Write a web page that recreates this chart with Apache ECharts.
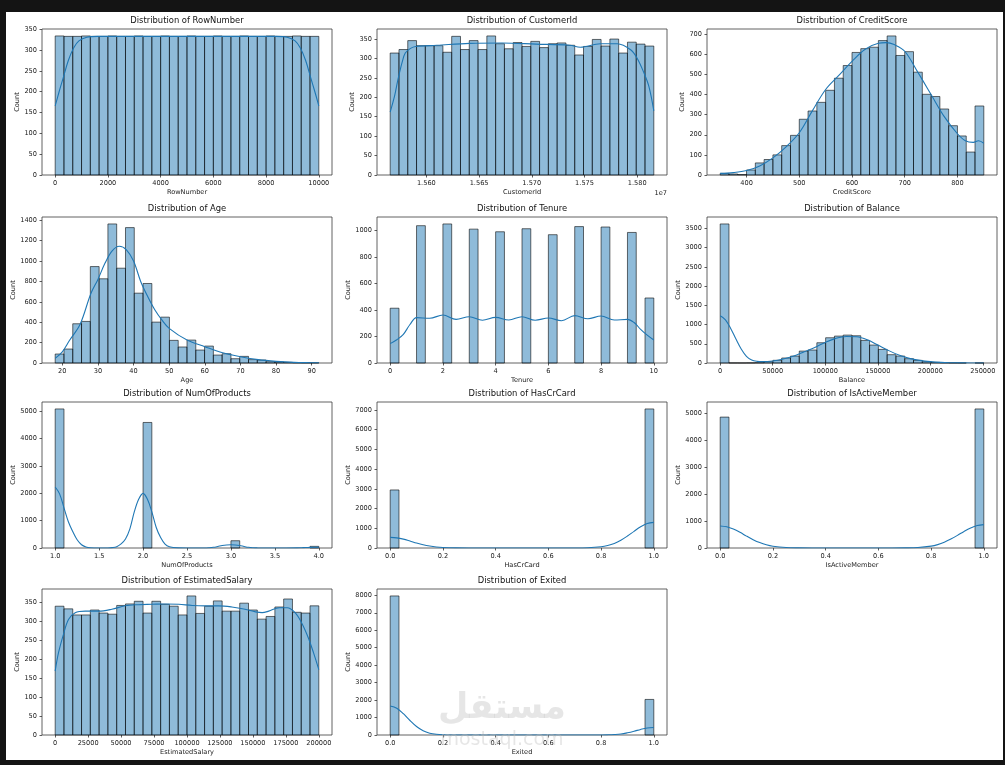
<!DOCTYPE html>
<html><head><meta charset="utf-8">
<script src="https://cdn.jsdelivr.net/npm/echarts@6/dist/echarts.min.js"></script>
<style>
html,body{margin:0;padding:0;background:#141414;overflow:hidden;}
#paper{position:absolute;left:6px;top:12px;width:997px;height:748px;background:#ffffff;}
#chart{position:absolute;left:0;top:0;width:1005px;height:765px;}
</style></head><body><div id="paper"></div><div id="chart"></div>
<script>
// ---------------- DATA ----------------
const rowNumberRange = [1, 10000];
const rowNumberCounts = [334,333,333,334,333,333,334,333,333,334,333,333,334,333,333,334,333,333,334,333,333,334,333,333,334,333,333,334,333,333];
const rowNumberKde = [[1,166],[150,200],[300,232],[500,275],[700,305],[900,322],[1200,331],[1600,333],[5000,333],[8400,333],[8800,331],[9100,322],[9300,305],[9500,275],[9700,232],[9850,200],[10000,166]];
const rowNumberXTicks = [0,2000,4000,6000,8000,10000];
const rowNumberYTicks = [0,50,100,150,200,250,300,350];

const customerIdRange = [15565701, 15815690];
const customerIdCounts = [314,323,346,333,333,333,316,357,323,346,323,358,338,325,341,331,344,328,338,340,334,309,331,349,332,350,314,342,337,332];
const customerIdKde = [[15565701,162],[15570000,205],[15573000,245],[15577000,290],[15580000,314],[15585000,326],[15590000,331],[15610000,334],[15641000,339],[15672000,340],[15704000,337],[15736000,334],[15746000,329],[15765000,338],[15781000,338],[15794000,322],[15800000,300],[15806000,265],[15811000,228],[15815690,165]];
const customerIdXTicks = [15600000,15650000,15700000,15750000,15800000];
const customerIdYTicks = [0,50,100,150,200,250,300,350];

const creditScoreRange = [350, 850];
const creditScoreCounts = [8,5,2,25,60,77,100,146,197,277,318,361,421,481,544,609,628,635,668,691,594,613,511,401,390,328,245,194,114,343];
const creditScoreKde = [[350,8],[375,12],[400,22],[425,45],[450,85],[475,140],[500,210],[525,320],[550,425],[575,495],[600,565],[625,625],[650,655],[665,658],[680,648],[700,615],[725,510],[750,400],[775,290],[800,205],[815,170],[830,162],[840,170],[850,158]];
const creditScoreXTicks = [400,500,600,700,800];
const creditScoreYTicks = [0,100,200,300,400,500,600,700];

const ageRange = [18, 92];
const ageCounts = [88,137,385,408,946,826,1364,930,1328,685,780,401,450,222,157,225,127,166,78,91,42,65,33,29,13,10,6,3,2,2];
const ageKde = [[18,46],[20,110],[22,220],[25,380],[28,680],[30,820],[32,980],[34,1100],[36,1145],[38,1110],[40,1000],[42,800],[44,650],[46,520],[48,420],[50,340],[55,225],[60,160],[65,100],[70,62],[75,33],[80,16],[85,6],[90,3],[92,2]];
const ageXTicks = [20,30,40,50,60,70,80,90];
const ageYTicks = [0,200,400,600,800,1000,1200,1400];

const tenureRange = [0, 10];
const tenureCounts = [413,0,0,1035,0,0,1048,0,0,1009,0,0,989,0,0,1012,0,0,967,0,0,1028,0,0,1025,0,0,984,0,490];
const tenureKde = [[0,146],[0.25,175],[0.5,216],[0.75,290],[1,342],[1.5,337],[2,362],[2.5,329],[3,349],[3.5,322],[4,344],[4.5,324],[5,349],[5.5,322],[6,339],[6.5,319],[7,357],[7.5,334],[8,354],[8.5,324],[9,329],[9.25,305],[9.5,254],[9.75,210],[10,173]];
const tenureXTicks = [0,2,4,6,8,10];
const tenureYTicks = [0,200,400,600,800,1000];

const balanceRange = [0, 250898];
const balanceCounts = [3617,2,1,3,8,35,70,130,180,310,337,527,657,700,726,709,588,467,354,216,181,112,69,35,17,8,3,1,0,1];
const balanceKde = [[0,1227],[5000,1124],[10000,900],[15000,622],[20000,363],[25000,173],[30000,78],[35000,43],[40000,35],[50000,52],[60000,104],[70000,181],[80000,294],[90000,406],[100000,536],[110000,640],[120000,691],[130000,683],[140000,605],[150000,467],[160000,328],[170000,207],[180000,121],[190000,69],[200000,35],[210000,15],[220000,6],[230000,2],[250898,0]];
const balanceXTicks = [0,50000,100000,150000,200000,250000];
const balanceYTicks = [0,500,1000,1500,2000,2500,3000,3500];

const productsRange = [1, 4];
const productsCounts = [5084,0,0,0,0,0,0,0,0,0,4590,0,0,0,0,0,0,0,0,0,266,0,0,0,0,0,0,0,0,60];
const productsKde = [[1.0,2230],[1.05,1980],[1.1,1470],[1.15,960],[1.2,600],[1.25,300],[1.3,120],[1.35,40],[1.4,10],[1.5,0],[1.6,2],[1.65,15],[1.7,50],[1.75,150],[1.8,330],[1.85,700],[1.9,1320],[1.95,1780],[2.0,1997],[2.05,1780],[2.1,1320],[2.15,750],[2.2,380],[2.25,140],[2.3,45],[2.4,5],[2.5,0],[2.7,2],[2.75,10],[2.8,25],[2.85,55],[2.9,90],[2.95,112],[3.0,120],[3.05,112],[3.1,90],[3.15,55],[3.2,25],[3.25,10],[3.3,3],[3.5,0],[3.75,3],[3.8,8],[3.85,16],[3.9,22],[3.95,26],[4.0,27]];
const productsXTicks = [1.0,1.5,2.0,2.5,3.0,3.5,4.0];
const productsYTicks = [0,1000,2000,3000,4000,5000];

const crCardRange = [0, 1];
const crCardCounts = [2945,0,0,0,0,0,0,0,0,0,0,0,0,0,0,0,0,0,0,0,0,0,0,0,0,0,0,0,0,7055];
const crCardKde = [[0,540],[0.025,515],[0.05,450],[0.075,355],[0.1,253],[0.125,165],[0.15,98],[0.175,52],[0.2,26],[0.25,5],[0.3,0],[0.7,1],[0.75,11],[0.8,62],[0.825,126],[0.85,233],[0.875,394],[0.9,606],[0.925,846],[0.95,1074],[0.975,1239],[1.0,1300]];
const binaryXTicks = [0,0.2,0.4,0.6,0.8,1.0];
const crCardYTicks = [0,1000,2000,3000,4000,5000,6000,7000];

const activeRange = [0, 1];
const activeCounts = [4849,0,0,0,0,0,0,0,0,0,0,0,0,0,0,0,0,0,0,0,0,0,0,0,0,0,0,0,0,5151];
const activeKde = [[0,817],[0.025,785],[0.05,700],[0.075,580],[0.1,440],[0.125,310],[0.15,200],[0.175,118],[0.2,65],[0.25,16],[0.3,3],[0.35,0],[0.65,0],[0.7,3],[0.75,17],[0.8,69],[0.825,125],[0.85,212],[0.875,330],[0.9,467],[0.925,615],[0.95,743],[0.975,833],[1.0,866]];
const activeYTicks = [0,1000,2000,3000,4000,5000];

const salaryRange = [11.58, 199992.48];
const salaryCounts = [339,332,316,316,329,321,318,341,345,352,321,352,344,339,316,366,320,339,353,326,326,347,329,305,312,337,358,323,321,340];
const salaryKde = [[0,168],[2500,216],[6300,265],[10100,304],[15200,322],[22800,326],[33000,326],[43000,331],[53000,340],[63000,343],[73400,344],[83500,345],[93700,344],[104000,341],[114000,340],[124000,340],[134000,337],[144000,331],[152000,324],[157000,322],[162000,326],[170000,335],[176000,335],[182000,322],[187000,295],[192000,256],[196000,216],[199992,172]];
const salaryXTicks = [0,25000,50000,75000,100000,125000,150000,175000,200000];
const salaryYTicks = [0,50,100,150,200,250,300,350];

const exitedRange = [0, 1];
const exitedCounts = [7963,0,0,0,0,0,0,0,0,0,0,0,0,0,0,0,0,0,0,0,0,0,0,0,0,0,0,0,0,2037];
const exitedKde = [[0,1660],[0.025,1537],[0.05,1220],[0.075,830],[0.1,485],[0.125,243],[0.15,105],[0.175,39],[0.2,12],[0.25,1],[0.3,0],[0.75,1],[0.8,3],[0.825,10],[0.85,25],[0.875,55],[0.9,125],[0.925,215],[0.95,320],[0.975,400],[1.0,430]];
const exitedYTicks = [0,1000,2000,3000,4000,5000,6000,7000,8000];

// ---------------- CHART ----------------
const FONT = 'DejaVu Sans';
const BAR_FILL = 'rgba(31,119,180,0.5)';
const BAR_EDGE = 'rgba(0,0,0,0.72)';
const KDE_COLOR = '#1f77b4';
const TEXT = '#1a1a1a';
const TICK_FS = 6.6;

const intFmt = v => String(Math.round(v));
const oneDec = v => Number(v).toFixed(1);

const panels = [
  {name:'RowNumber', range:rowNumberRange, counts:rowNumberCounts, kde:rowNumberKde, xt:rowNumberXTicks, yt:rowNumberYTicks, fmt:intFmt},
  {name:'CustomerId', range:customerIdRange, counts:customerIdCounts, kde:customerIdKde, xt:customerIdXTicks, yt:customerIdYTicks, fmt:v=>(v/1e7).toFixed(3), offset:'1e7'},
  {name:'CreditScore', range:creditScoreRange, counts:creditScoreCounts, kde:creditScoreKde, xt:creditScoreXTicks, yt:creditScoreYTicks, fmt:intFmt},
  {name:'Age', range:ageRange, counts:ageCounts, kde:ageKde, xt:ageXTicks, yt:ageYTicks, fmt:intFmt},
  {name:'Tenure', range:tenureRange, counts:tenureCounts, kde:tenureKde, xt:tenureXTicks, yt:tenureYTicks, fmt:intFmt},
  {name:'Balance', range:balanceRange, counts:balanceCounts, kde:balanceKde, xt:balanceXTicks, yt:balanceYTicks, fmt:intFmt},
  {name:'NumOfProducts', range:productsRange, counts:productsCounts, kde:productsKde, xt:productsXTicks, yt:productsYTicks, fmt:oneDec},
  {name:'HasCrCard', range:crCardRange, counts:crCardCounts, kde:crCardKde, xt:binaryXTicks, yt:crCardYTicks, fmt:oneDec},
  {name:'IsActiveMember', range:activeRange, counts:activeCounts, kde:activeKde, xt:binaryXTicks, yt:activeYTicks, fmt:oneDec},
  {name:'EstimatedSalary', range:salaryRange, counts:salaryCounts, kde:salaryKde, xt:salaryXTicks, yt:salaryYTicks, fmt:intFmt},
  {name:'Exited', range:exitedRange, counts:exitedCounts, kde:exitedKde, xt:binaryXTicks, yt:exitedYTicks, fmt:oneDec}
];

const colLeft = [42, 377, 707];
const rowTop = [29, 217, 402, 589];
const PW = 290, PH = 146;

function histRender(params, api) {
  const p0 = api.coord([api.value(0), 0]);
  const p1 = api.coord([api.value(1), api.value(2)]);
  return {
    type: 'rect',
    shape: {x: p0[0], y: p1[1], width: p1[0] - p0[0], height: p0[1] - p1[1]},
    style: {fill: BAR_FILL, stroke: BAR_EDGE, lineWidth: 0.8}
  };
}

const grid = [], xAxis = [], yAxis = [], series = [], graphic = [];
const tickStyle = {show:true, length:2.5, lineStyle:{color:'#333', width:0.8}};
const labelBase = {fontSize:TICK_FS, color:TEXT, fontFamily:FONT};

panels.forEach((p, i) => {
  const r = Math.floor(i / 3), c = i % 3;
  const left = colLeft[c], top = rowTop[r];
  grid.push({left, top, width: PW, height: PH, show: true, borderColor: '#3a3a3a', borderWidth: 0.8, backgroundColor: 'transparent'});
  const span = p.range[1] - p.range[0];
  const xMin = p.range[0] - 0.05 * span, xMax = p.range[1] + 0.05 * span;
  const yMax = Math.max(...p.counts) * 1.05;
  const yLabLen = Math.max(...p.yt.map(v => String(v).length));
  xAxis.push({
    type: 'value', gridIndex: i, min: xMin, max: xMax,
    name: p.name, nameLocation: 'middle', nameGap: 14,
    nameTextStyle: {fontSize: TICK_FS, color: TEXT, fontFamily: FONT},
    axisLine: {show: false, onZero: false}, splitLine: {show: false},
    axisTick: Object.assign({customValues: p.xt}, tickStyle),
    axisLabel: Object.assign({customValues: p.xt, formatter: p.fmt, margin: 5}, labelBase)
  });
  yAxis.push({
    type: 'value', gridIndex: i, min: 0, max: yMax,
    name: 'Count', nameLocation: 'middle', nameRotate: 90, nameGap: 8 + 4.2 * yLabLen,
    nameTextStyle: {fontSize: TICK_FS, color: TEXT, fontFamily: FONT},
    axisLine: {show: false, onZero: false}, splitLine: {show: false},
    axisTick: Object.assign({customValues: p.yt}, tickStyle),
    axisLabel: Object.assign({customValues: p.yt, formatter: intFmt, margin: 5}, labelBase)
  });
  const w = span / p.counts.length;
  const bins = p.counts.map((cnt, k) => [p.range[0] + k * w, p.range[0] + (k + 1) * w, cnt]).filter(d => d[2] > 0);
  series.push({type: 'custom', xAxisIndex: i, yAxisIndex: i, renderItem: histRender, data: bins, encode: {x: [0, 1], y: 2}, silent: true, z: 2});
  series.push({type: 'line', xAxisIndex: i, yAxisIndex: i, data: p.kde, showSymbol: false, smooth: 0.35,
    lineStyle: {color: KDE_COLOR, width: 1.1}, itemStyle: {color: KDE_COLOR}, silent: true, z: 3});
  graphic.push({type: 'text', x: left + PW / 2, y: top - 8, style: {text: 'Distribution of ' + p.name, fontSize: 8.4, fill: '#111', fontFamily: FONT, textAlign: 'center', textVerticalAlign: 'middle'}});
  if (p.offset) {
    graphic.push({type: 'text', x: left + PW, y: top + PH + 18, style: {text: p.offset, fontSize: TICK_FS, fill: TEXT, fontFamily: FONT, textAlign: 'right', textVerticalAlign: 'middle'}});
  }
});

// watermark
graphic.push({type: 'text', x: 502, y: 709, z: 100, style: {text: 'مستقل', fontSize: 35, fontWeight: 'bold', fill: 'rgba(190,190,190,0.38)', fontFamily: 'DejaVu Sans', textAlign: 'center', textVerticalAlign: 'middle'}});
graphic.push({type: 'text', x: 502, y: 740, z: 100, style: {text: 'mostaql.com', fontSize: 19, fill: 'rgba(190,190,190,0.38)', fontFamily: 'DejaVu Sans', textAlign: 'center', textVerticalAlign: 'middle'}});

const chart = echarts.init(document.getElementById('chart'), null, {renderer: 'canvas'});
chart.setOption({animation: false, backgroundColor: 'transparent', grid, xAxis, yAxis, series, graphic});
</script></body></html>
